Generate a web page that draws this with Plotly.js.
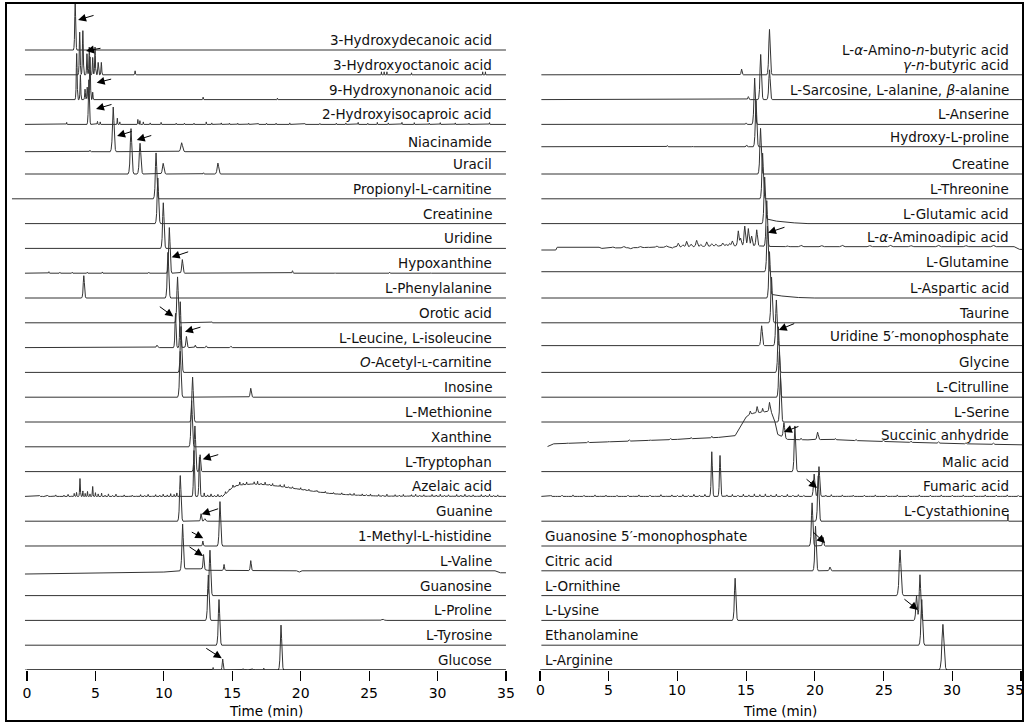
<!DOCTYPE html>
<html><head><meta charset="utf-8">
<script src="https://cdn.plot.ly/plotly-3.0.1.min.js"></script>
<style>html,body{margin:0;padding:0;background:#fff}</style>
</head><body><div id="chart" style="width:1026px;height:724px"></div>
<script>
// ---------- DATA (retention time in min, intensity in baseline-spacing units) ----------
const tickVals = [0, 5, 10, 15, 20, 25, 30, 35];
const axisTitle = 'Time (min)';

const L_labels = ['3-Hydroxydecanoic acid','3-Hydroxyoctanoic acid','9-Hydroxynonanoic acid','2-Hydroxyisocaproic acid','Niacinamide','Uracil','Propionyl-L-carnitine','Creatinine','Uridine','Hypoxanthine','L-Phenylalanine','Orotic acid','L-Leucine, L-isoleucine','<i>O</i>-Acetyl-<span style="font-size:10px">L</span>-carnitine','Inosine','L-Methionine','Xanthine','L-Tryptophan','Azelaic acid','Guanine','1-Methyl-L-histidine','L-Valine','Guanosine','L-Proline','L-Tyrosine','Glucose'];

// peaks: [retention time, height, half-width]
const hydroxydecanoic = [[3.52,1.92,0.13]];
const hydroxyoctanoic = [[3.85,1.72,0.12],[4.08,1.78,0.12],[4.38,0.85,0.1],[4.55,1.12,0.1],[4.8,0.7,0.1],[4.97,1.12,0.1],[5.2,0.5,0.1],[5.43,0.5,0.1],[7.9,0.16,0.08],[25.9,0.12,0.04],[26.1,0.12,0.04],[26.3,0.12,0.04],[28.1,0.08,0.04],[33.3,0.12,0.04],[33.5,0.12,0.04]];
const hydroxynonanoic = [[3.63,1.86,0.12],[3.9,1.0,0.1],[4.24,0.42,0.1],[4.4,0.5,0.1],[4.6,1.72,0.12],[4.8,0.3,0.08],[12.87,0.1,0.06],[18.3,0.06,0.05]];
const hydroxyisocaproic = [[2.9,0.08,0.05],[4.52,1.8,0.14],[5.15,0.12,0.06],[5.35,0.1,0.05],[6.6,0.25,0.06],[6.78,0.1,0.05],[8.1,0.2,0.06],[8.25,0.15,0.05],[8.5,0.1,0.05],[9.0,0.06,0.05],[9.8,0.08,0.05],[10.9,0.05,0.04],[11.5,0.05,0.04],[12.2,0.05,0.04],[13.1,0.1,0.05],[13.5,0.06,0.04],[14.2,0.06,0.04],[14.8,0.05,0.04],[15.4,0.05,0.04],[16.2,0.05,0.04],[16.9,0.04,0.04],[17.5,0.05,0.04],[18.2,0.05,0.04],[19.2,0.06,0.04],[20.3,0.04,0.04],[21.4,0.04,0.04],[22.6,0.05,0.04],[23.3,0.06,0.04],[24.2,0.08,0.04],[24.9,0.05,0.04],[25.6,0.08,0.04],[26.4,0.06,0.04],[27.4,0.08,0.04],[28.3,0.07,0.04],[29.4,0.05,0.04],[30.2,0.07,0.04],[31.3,0.06,0.04],[32.3,0.05,0.04],[33.8,0.07,0.04]];
const niacinamide = [[4.6,0.06,0.1],[6.3,1.8,0.22],[11.3,0.36,0.25]];
const uracil = [[7.6,1.83,0.22],[8.26,1.24,0.22],[9.95,0.43,0.22],[12.9,0.05,0.08],[13.95,0.44,0.22]];
const propionylcarnitine = [[9.43,1.85]];
const creatinine = [[9.56,1.84]];
const uridine = [[9.96,1.84]];
const hypoxanthine = [[1.6,0.06,0.06],[2.4,0.04,0.05],[3.3,0.04,0.05],[4.4,0.04,0.05],[5.5,0.05,0.05],[8.9,0.04,0.05],[10.4,1.84],[11.35,0.55,0.18],[13.6,0.03,0.05],[19.4,0.1,0.1],[22.5,0.03,0.05],[26.5,0.04,0.05],[29.5,0.03,0.05]];
const phenylalanine = [[4.15,0.9,0.17],[10.3,1.84]];
const oroticacid = [[3.5,0.03,0.05],[11.0,1.85],[13.5,0.04,0.05]];
const leucine = [[9.5,0.1,0.18],[10.85,1.38,0.15],[11.2,1.85,0.15],[11.65,0.45,0.16],[12.3,0.1,0.12],[13.1,0.07,0.12],[14.9,0.05,0.12]];
const acetylcarnitine = [[11.25,1.85]];
const inosine = [[11.2,1.85],[16.35,0.36,0.17]];
const methionine = [[12.1,1.81]];
const xanthine = [[12.03,1.86]];
const tryptophan = [[12.27,1.84],[12.65,0.68,0.15]];
const azelaic = [[0.9,0.04,0.08],[1.2,-0.03,0.06],[1.5,0.05,0.07],[1.8,0.02,0.06],[2.1,0.06,0.07],[2.45,-0.02,0.06],[2.7,0.05,0.06],[3.0,0.08,0.07],[3.25,0.03,0.05],[3.45,0.12,0.07],[3.62,0.16,0.06],[3.87,0.72,0.1],[4.08,0.22,0.06],[4.25,0.12,0.05],[4.42,0.2,0.06],[4.6,0.1,0.05],[4.8,0.4,0.08],[5.0,0.15,0.06],[5.2,0.1,0.05],[5.45,0.13,0.06],[5.7,0.05,0.05],[5.95,0.1,0.06],[6.25,0.04,0.05],[6.5,0.09,0.06],[6.8,0.03,0.05],[7.1,0.06,0.06],[7.45,0.02,0.05],[7.7,0.05,0.06],[8.0,0.03,0.05],[8.3,0.07,0.06],[8.6,0.04,0.05],[8.85,0.08,0.06],[9.15,0.03,0.05],[9.4,0.07,0.06],[9.7,0.05,0.05],[9.95,0.09,0.06],[10.25,0.06,0.05],[10.5,0.11,0.06],[10.75,0.08,0.05],[10.95,0.14,0.06],[11.15,0.1,0.05],[12.2,1.85,0.14],[12.6,1.58,0.14],[12.95,0.14,0.06],[13.2,0.06,0.05],[13.45,0.1,0.06],[13.7,0.04,0.05],[13.95,0.08,0.06],[14.2,0.05,0.05],[14.5,0.09,0.06],[14.8,0.05,0.05],[15.05,0.1,0.06],[15.3,0.04,0.05],[15.55,0.12,0.06],[15.8,0.06,0.05],[16.05,0.1,0.06],[16.35,0.03,0.05],[16.6,0.09,0.06],[16.85,0.12,0.05],[17.1,0.05,0.06],[17.4,0.1,0.05],[17.7,0.04,0.06],[17.95,0.08,0.05],[18.25,0.03,0.06],[18.5,0.07,0.05],[18.8,0.1,0.06],[19.1,0.04,0.05],[19.4,0.06,0.06],[19.7,0.03,0.05],[20.0,0.07,0.06],[20.3,0.04,0.05],[20.6,0.06,0.06],[20.9,-0.03,0.05],[21.2,0.05,0.06],[21.5,0.02,0.05],[21.8,0.06,0.06],[22.1,-0.03,0.05],[22.4,0.05,0.06],[22.7,0.03,0.05],[23.0,0.06,0.06],[23.3,-0.02,0.05],[23.6,0.05,0.06],[23.9,0.07,0.05],[24.2,0.03,0.06],[24.5,0.06,0.05],[24.8,0.04,0.06],[25.1,0.07,0.05],[25.4,0.02,0.06],[25.7,0.06,0.05],[26.0,0.04,0.06],[26.3,0.08,0.05],[26.6,0.03,0.06],[26.9,0.06,0.05],[27.2,0.04,0.06],[27.5,0.07,0.05],[27.8,0.03,0.06],[28.1,0.06,0.05],[28.4,0.08,0.06],[28.7,0.04,0.05],[29.0,0.06,0.06],[29.3,0.03,0.05],[29.6,0.07,0.06],[29.9,0.05,0.05],[30.2,0.08,0.06],[30.5,0.04,0.05],[30.8,0.06,0.06],[31.1,0.03,0.05],[31.4,0.07,0.06],[31.7,0.05,0.05],[32.0,0.08,0.06],[32.3,0.04,0.05],[32.6,0.06,0.06],[32.9,0.03,0.05],[33.2,0.07,0.06],[33.5,0.05,0.05],[33.8,0.08,0.06],[34.1,0.04,0.05],[34.4,0.06,0.06],[34.7,0.03,0.05]];
const azelaicBase = [[-0.15,0],[14.3,0],[15.0,0.35],[15.5,0.46],[16.5,0.5],[17.5,0.47],[18.5,0.4],[19.5,0.32],[20.5,0.24],[21.5,0.16],[22.5,0.1],[24,0.05],[26,0.01],[35,0]];
const guanine = [[11.2,1.84],[12.72,0.3,0.15],[13.0,0.1,0.18]];
const methylhistidine = [[12.85,0.2,0.12],[14.1,1.79]];
const valine = [[11.37,1.85],[12.9,0.6,0.15],[14.4,0.24,0.12],[16.35,0.4,0.14]];
const valineBase = [[-0.15,-0.13],[10,-0.05],[11.2,0],[11.6,0.08],[12.7,0.08],[13.2,0.02],[19.7,0],[19.9,-0.05],[20.1,0],[34.2,0],[34.6,-0.08],[35,-0.08]];
const guanosine = [[13.37,1.83]];
const proline = [[13.25,1.83],[26.0,0.05,0.3]];
const tyrosine = [[14.03,1.84]];
const glucose = [[13.6,0.1,0.1],[14.3,0.44,0.14],[15.3,0.03,0.1],[15.8,0.05,0.2],[16.4,0.06,0.3],[17.3,0.08,0.08],[18.56,1.81]];

const R_labels = ['L-<i>α</i>-Amino-<i>n</i>-butyric acid','L-Sarcosine, L-alanine, <i>β</i>-alanine','L-Anserine','Hydroxy-L-proline','Creatine','L-Threonine','L-Glutamic acid','L-<i>α</i>-Aminoadipic acid','L-Glutamine','L-Aspartic acid','Taurine','Uridine 5′-monophosphate','Glycine','L-Citrulline','L-Serine','Succinic anhydride','Malic acid','Fumaric acid','L-Cystathionine','Guanosine 5′-monophosphate','Citric acid','L-Ornithine','L-Lysine','Ethanolamine','L-Arginine'];
const R_label2 = '<i>γ</i>-<i>n</i>-butyric acid';

const aminobutyric = [[14.67,0.23,0.14],[16.7,1.83]];
const sarcosine = [[15.16,0.12,0.14],[16.06,1.82],[16.7,1.2]];
const anserine = [[15.0,0.06,0.12],[15.62,1.87]];
const hydroxyproline = [[6.4,0.03,0.1],[9.27,0.05,0.1],[11.1,0.03,0.1],[15.04,0.07,0.12],[15.72,1.87]];
const creatine = [[16.05,1.84]];
const threonine = [[16.2,1.84]];
const glutamic = [[16.35,1.84]];
const glutamicBase = [[0,0],[16.3,0],[16.55,0.18],[17.2,0.1],[18.5,0.03],[19.5,0],[35.1,0]];
const aminoadipic = [[2.7,0.03],[3.3,0.02],[5.3,0.04],[6.1,0.05],[6.6,-0.04],[7.3,0.04],[7.8,0.03],[8.5,0.06],[9.2,0.05],[9.6,-0.05],[10.06,0.15],[10.4,0.08],[10.67,0.22],[11.0,0.1],[11.4,0.25],[11.7,0.08],[12.13,0.18],[12.5,0.1],[12.8,0.08],[13.3,0.12],[13.55,0.06],[13.8,0.1],[14.0,0.2],[14.43,0.6],[14.6,0.3],[14.9,0.8],[15.16,0.7],[15.4,0.4],[15.77,0.65],[16.5,1.84],[18,0.04],[19,0.05],[20.5,0.04],[22,0.05],[24,0.04],[25.5,0.05],[27,0.04],[29,0.05],[31,0.04],[33,0.05]];
const aminoadipicBase = [[0,-0.065],[1.15,-0.065],[1.25,0.045],[4.3,0.045],[4.5,0.0],[5.5,0.02],[9.5,0.05],[13.5,0.1],[16,0.1],[17,0.07],[34.5,0.07],[34.9,-0.04],[35.1,-0.04]];
const glutamine = [[16.55,1.84]];
const aspartic = [[16.7,1.84]];
const asparticBase = [[0,0],[16.65,0],[16.9,0.14],[17.6,0.08],[18.8,0.02],[20,0],[35.1,0]];
const taurine = [[16.85,1.84]];
const ump = [[16.13,0.8],[17.2,1.84]];
const glycine = [[17.35,1.84]];
const citrulline = [[17.42,1.84]];
const serine = [[17.5,1.84]];
const succinic = [[2,0.03,0.1],[3.5,0.04,0.1],[5,0.03,0.1],[6.5,0.05,0.1],[8,0.03,0.1],[9.5,0.04,0.1],[11,0.05,0.1],[12.5,0.06,0.1],[15.3,0.15,0.15],[15.8,0.25,0.15],[16.2,0.15,0.12],[16.7,0.35,0.15],[17.75,0.6],[19,0.06,0.1],[20.2,0.3,0.2],[21.5,0.05,0.1],[23,0.04,0.1],[25,0.05,0.1],[27,0.04,0.1],[29,0.05,0.1],[31,0.04,0.1],[33,0.05,0.1]];
const succinicBase = [[0.5,0],[1.0,0.12],[5,0.2],[10,0.3],[13,0.38],[14.2,0.45],[15.0,1.2],[15.5,1.35],[16.2,1.4],[16.8,1.45],[17.1,1.0],[17.3,0.5],[18,0.3],[19.5,0.28],[21,0.3],[23,0.25],[27,0.18],[31,0.12],[35.1,0.08]];
const malic = [[18.55,1.84]];
const fumaric = [[0.8,0.04,0.08],[1.2,-0.02,0.07],[1.6,0.05,0.08],[2.0,0.02,0.07],[2.4,0.06,0.08],[2.8,-0.02,0.07],[3.2,0.04,0.08],[3.6,0.02,0.07],[4.0,0.06,0.08],[4.4,0.03,0.07],[4.8,0.05,0.08],[5.2,-0.02,0.07],[5.6,0.04,0.08],[6.0,0.02,0.07],[6.4,0.05,0.08],[6.8,0.03,0.07],[7.2,0.06,0.08],[7.6,0.02,0.07],[8.0,0.05,0.08],[8.4,0.03,0.07],[8.8,0.07,0.08],[9.2,0.03,0.07],[9.6,0.06,0.08],[10.0,0.04,0.07],[10.4,0.07,0.08],[10.8,0.04,0.07],[11.2,0.08,0.08],[11.6,0.05,0.07],[12.0,0.08,0.08],[12.5,1.8,0.16],[13.1,1.65,0.16],[13.6,0.06,0.08],[14.0,0.08,0.07],[14.4,0.05,0.08],[14.8,0.09,0.07],[15.2,0.06,0.08],[15.6,0.1,0.07],[16.0,0.07,0.08],[16.4,0.1,0.07],[16.8,0.06,0.08],[17.2,0.09,0.07],[17.6,0.05,0.08],[18.0,0.08,0.07],[18.4,0.05,0.08],[18.8,0.07,0.07],[19.2,0.04,0.08],[19.95,0.9],[20.3,1.2],[20.8,0.05,0.08],[21.2,0.07,0.07],[21.6,0.03,0.08],[22.0,0.06,0.07],[22.4,0.03,0.08],[22.8,0.05,0.07],[23.2,-0.02,0.08],[23.6,0.05,0.07],[24.0,0.03,0.08],[24.4,0.06,0.07],[24.8,0.02,0.08],[25.2,0.05,0.07],[25.6,0.03,0.08],[26.0,0.06,0.07],[26.4,0.02,0.08],[26.8,0.05,0.07],[27.2,0.03,0.08],[27.6,0.06,0.07],[28.0,0.02,0.08],[28.4,0.05,0.07],[28.8,0.03,0.08],[29.2,0.06,0.07],[29.6,0.02,0.08],[30.0,0.05,0.07],[30.4,0.03,0.08],[30.8,0.06,0.07],[31.2,0.02,0.08],[31.6,0.05,0.07],[32.0,0.03,0.08],[32.4,0.06,0.07],[32.8,0.02,0.08],[33.2,0.05,0.07],[33.6,0.03,0.08],[34.0,0.06,0.07],[34.4,0.02,0.08],[34.8,0.04,0.07]];
const cystathionine = [[20.25,1.83],[34.05,0.28,0.05]];
const gmp = [[19.8,1.74],[20.6,0.35,0.15]];
const citric = [[20.05,1.8],[21.1,0.15,0.18]];
const ornithine = [[26.2,1.84,0.25]];
const lysine = [[14.2,1.7],[27.4,1.0,0.2],[27.65,1.84,0.2]];
const ethanolamine = [[27.78,1.84,0.22]];
const arginine = [[29.32,1.84,0.28]];

// ---------- LAYOUT CONSTANTS ----------
const L_peaks = [hydroxydecanoic,hydroxyoctanoic,hydroxynonanoic,hydroxyisocaproic,niacinamide,uracil,propionylcarnitine,creatinine,uridine,hypoxanthine,phenylalanine,oroticacid,leucine,acetylcarnitine,inosine,methionine,xanthine,tryptophan,azelaic,guanine,methylhistidine,valine,guanosine,proline,tyrosine,glucose];
const L_bases = {4:[[-0.15,-0.1],[35,-0.1]], 18:azelaicBase, 21:valineBase};
const L_start = {6:-1.1};
const R_peaks = [aminobutyric,sarcosine,anserine,hydroxyproline,creatine,threonine,glutamic,aminoadipic,glutamine,aspartic,taurine,ump,glycine,citrulline,serine,succinic,malic,fumaric,cystathionine,gmp,citric,ornithine,lysine,ethanolamine,arginine];
const R_bases = {3:[[0,0.1],[35.1,0.1]], 6:glutamicBase, 7:aminoadipicBase, 8:[[0,0.06],[35.1,0.06]], 9:asparticBase, 11:[[0,0.08],[35.1,0.08]], 15:succinicBase};
const R_start = {15:0.55};
const R_leftAligned = [19,20,21,22,23,24];

// arrows: [head time, head level, tail dx px, tail dy px]
const L_arrows = [[3.73,26.21,17,-5],[4.31,24.96,16,-3],[5.09,23.68,16,-4],[5.04,22.62,17,-5],[6.58,21.53,16,-5],[8.02,21.37,16,-5],[10.57,16.64,18,-6],[10.69,14.25,-15,-11],[11.54,13.64,17,-5],[12.84,8.5,17,-5],[12.76,6.28,18,-6],[12.88,5.31,-13,-7],[12.86,4.6,-15,-10],[14.23,0.47,-17,-11]];
const R_arrows = [[16.59,17.63,18,-6],[17.37,13.71,17,-7],[17.75,9.6,16,-6],[20.16,7.34,-12,-10],[20.74,5.12,-13,-12],[27.5,2.42,-15,-12]];

const SHAPE = [[-1,0],[-0.7,0.05],[-0.45,0.22],[-0.22,0.7],[0,1],[0.22,0.7],[0.45,0.22],[0.7,0.05],[1,0]];
const W = 0.2;
const LINE = {color:'#333333', width:1};
const FONT = 'DejaVu Sans, Verdana, sans-serif';

function kernel(u){
  if (u <= -1 || u >= 1) return 0;
  for (let k=1;k<SHAPE.length;k++){
    if (u <= SHAPE[k][0]){
      const [u0,v0]=SHAPE[k-1],[u1,v1]=SHAPE[k];
      return v0+(v1-v0)*(u-u0)/(u1-u0);
    }
  }
  return 0;
}
function interp(base,x){
  if(!base) return 0;
  if(x<=base[0][0]) return base[0][1];
  for(let k=1;k<base.length;k++){
    if(x<=base[k][0]){const [a,b]=base[k-1],[c,d]=base[k];return b+(d-b)*(x-a)/(c-a);}
  }
  return base[base.length-1][1];
}
function build(peaks, base, level, t0, t1){
  const xs=new Set([t0,t1]);
  peaks.forEach(p=>{const w=p[2]||W;SHAPE.forEach(s=>xs.add(+(p[0]+s[0]*w).toFixed(4)));});
  if(base) base.forEach(b=>xs.add(b[0]));
  const xx=[...xs].filter(x=>x>=t0&&x<=t1).sort((a,b)=>a-b);
  const yy=xx.map(x=>{let y=level+interp(base,x);peaks.forEach(p=>{const w=p[2]||W;y+=p[1]*kernel((x-p[0])/w);});return y;});
  return {x:xx,y:yy};
}

const traces=[]; const annotations=[];
L_peaks.forEach((pk,i)=>{
  const lvl=25-i; const d=build(pk,L_bases[i],lvl,L_start[i]!==undefined?L_start[i]:-0.15,35);
  traces.push({type:'scatter',mode:'lines',x:d.x,y:d.y,xaxis:'x',yaxis:'y',line:LINE,hoverinfo:'skip'});
  const off = L_bases[i]? interp(L_bases[i],34):0;
  annotations.push({xref:'x',yref:'y',x:34.1,y:lvl+off,xanchor:'right',yanchor:'bottom',showarrow:false,text:L_labels[i],font:{family:FONT,size:13.5,color:'#111'},yshift:0});
});
R_peaks.forEach((pk,i)=>{
  const lvl=24-i; const d=build(pk,R_bases[i],lvl,R_start[i]!==undefined?R_start[i]:0.1,35.1);
  traces.push({type:'scatter',mode:'lines',x:d.x,y:d.y,xaxis:'x2',yaxis:'y2',line:LINE,hoverinfo:'skip'});
  const left = R_leftAligned.includes(i);
  const off = R_bases[i]? interp(R_bases[i], left?0.3:34):0;
  annotations.push({xref:'x2',yref:'y2',x:left?0.2:34.3,y:lvl+off,xanchor:left?'left':'right',yanchor:'bottom',showarrow:false,text:R_labels[i],font:{family:FONT,size:13.5,color:'#111'},yshift:i===0?15:0});
});
annotations.push({xref:'x2',yref:'y2',x:34.3,y:24,xanchor:'right',yanchor:'bottom',showarrow:false,text:R_label2,font:{family:FONT,size:13.5,color:'#111'}});

L_arrows.forEach(a=>annotations.push({xref:'x',yref:'y',x:a[0],y:a[1],ax:a[2],ay:a[3],text:'',showarrow:true,arrowhead:2,arrowsize:1.6,arrowwidth:1,arrowcolor:'#000',standoff:0}));
R_arrows.forEach(a=>annotations.push({xref:'x2',yref:'y2',x:a[0],y:a[1],ax:a[2],ay:a[3],text:'',showarrow:true,arrowhead:2,arrowsize:1.6,arrowwidth:1,arrowcolor:'#000',standoff:0}));

annotations.push({xref:'x',yref:'paper',x:17.5,y:(724-711)/724,xanchor:'center',yanchor:'middle',showarrow:false,text:axisTitle,font:{family:FONT,size:13.5,color:'#000'}});
annotations.push({xref:'x2',yref:'paper',x:17.5,y:(724-711)/724,xanchor:'center',yanchor:'middle',showarrow:false,text:axisTitle,font:{family:FONT,size:13.5,color:'#000'}});
// right-panel tick labels (last one nudged inside the page edge)
tickVals.forEach(v=>annotations.push({xref:'x2',yref:'paper',x:v,y:(724-690)/724,xanchor:'center',yanchor:'middle',showarrow:false,text:String(v),xshift:v===35?-6:0,font:{family:FONT,size:14,color:'#000'}}));

const W_PX=1026,H_PX=724;
const yTop=3, yBot=670, step=24.8;
const yDom=[(H_PX-yBot)/H_PX,(H_PX-yTop)/H_PX];
const yRange=[0,(yBot-yTop)/step];
const axCommon={showgrid:false,zeroline:false,showline:false,ticks:'outside',ticklen:10,tickwidth:1.2,tickcolor:'#000',tickvals:tickVals,ticktext:tickVals.map(String),tickfont:{family:FONT,size:14,color:'#000'},fixedrange:true};
const layout={
  width:W_PX,height:H_PX,margin:{l:0,r:0,t:0,b:0},paper_bgcolor:'#fff',plot_bgcolor:'rgba(0,0,0,0)',showlegend:false,
  xaxis:Object.assign({},axCommon,{domain:[10.6/W_PX,508.7/W_PX],range:[-1.2,35.2],anchor:'y'}),
  yaxis:{domain:yDom,range:yRange,visible:false,fixedrange:true},
  xaxis2:Object.assign({},axCommon,{domain:[537.25/W_PX,1025.1/W_PX],range:[-0.2,35.3],anchor:'y2',showticklabels:false}),
  yaxis2:{domain:yDom,range:yRange,visible:false,anchor:'x2',fixedrange:true},
  shapes:[
    {type:'rect',xref:'paper',yref:'paper',x0:6/W_PX,x1:1023/W_PX,y0:3/H_PX,y1:(H_PX-3)/H_PX,line:{color:'#000',width:2}},
    {type:'line',xref:'x',yref:'y',x0:0,x1:35,y0:0,y1:0,line:{color:'#000',width:1.2}},
    {type:'line',xref:'x2',yref:'y2',x0:0,x1:35,y0:0,y1:0,line:{color:'#000',width:1.2}}
  ],
  annotations:annotations
};
Plotly.newPlot('chart',traces,layout,{staticPlot:true,displayModeBar:false});
</script></body></html>
